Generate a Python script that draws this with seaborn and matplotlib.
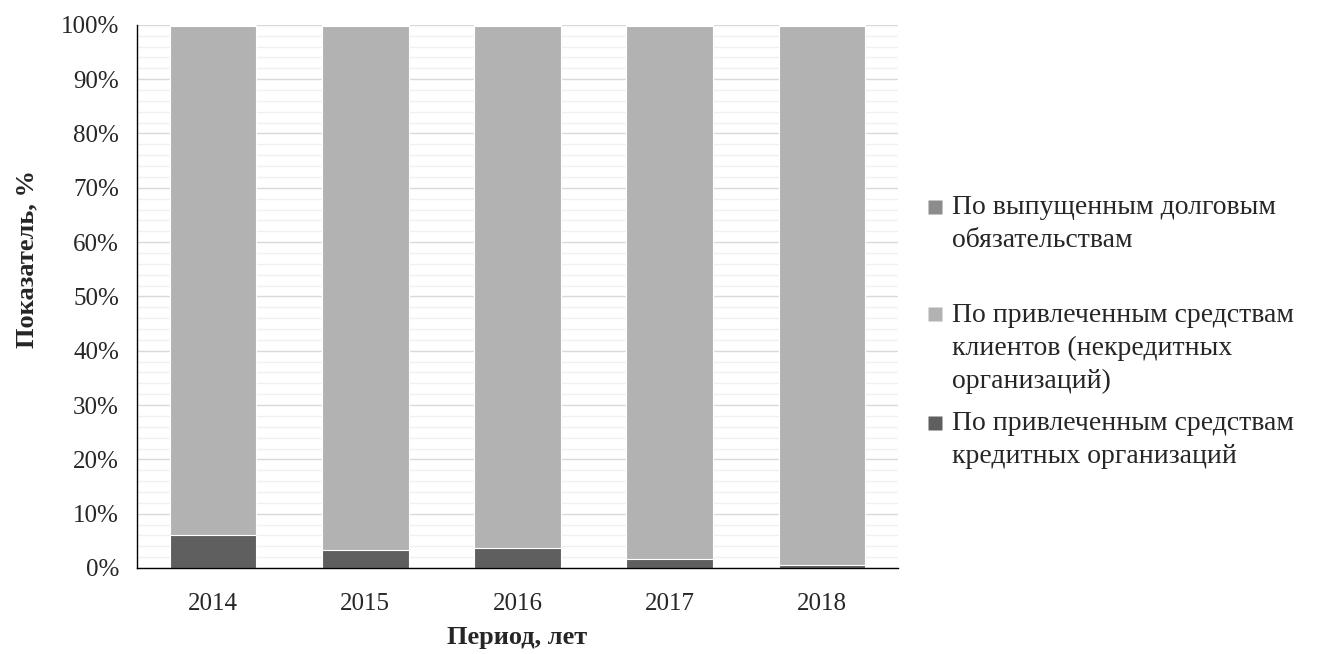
import pandas as pd
import seaborn as sns
import matplotlib.pyplot as plt
from matplotlib.lines import Line2D
from matplotlib.ticker import MultipleLocator, PercentFormatter

# --- Data (shares, %) ---
years = ["2014", "2015", "2016", "2017", "2018"]
credit_orgs = [6.0, 3.3, 3.7, 1.6, 0.5]      # По привлеченным средствам кредитных организаций
clients = [93.8, 96.5, 96.1, 98.2, 99.3]     # По привлеченным средствам клиентов
debt = [0.2, 0.2, 0.2, 0.2, 0.2]             # По выпущенным долговым обязательствам

labels = [
    "По выпущенным долговым\nобязательствам\n",
    "По привлеченным средствам\nклиентов (некредитных\nорганизаций)",
    "По привлеченным средствам\nкредитных организаций",
]
colors = ["#8c8c8c", "#b2b2b2", "#5f5f5f"]

df = pd.DataFrame({"year": years, "credit": credit_orgs, "clients": clients, "debt": debt})
df["lvl1"] = df["credit"]
df["lvl2"] = df["credit"] + df["clients"]
df["lvl3"] = df["lvl2"] + df["debt"]

sns.set_theme(style="white")
plt.rcParams["font.family"] = ["Liberation Serif", "DejaVu Serif"]

fig = plt.figure(figsize=(13.17, 6.54), dpi=100)
ax = fig.add_axes([0.104, 0.1315, 0.578, 0.8305])

# stacked bars: draw cumulative totals from the top layer down
for col, c in zip(["lvl3", "lvl2", "lvl1"], colors):
    sns.barplot(data=df, x="year", y=col, order=years, color=c, width=0.57,
                edgecolor="white", linewidth=0.8, saturation=1, ax=ax, zorder=2)

ax.set_xlim(-0.5, 4.5)
ax.set_ylim(0, 100)
ax.yaxis.set_major_locator(MultipleLocator(10))
ax.yaxis.set_minor_locator(MultipleLocator(2))
ax.yaxis.set_major_formatter(PercentFormatter(decimals=0))
ax.grid(axis="y", which="major", color="#d9d9d9", linewidth=1, zorder=0)
ax.grid(axis="y", which="minor", color="#f0f0f0", linewidth=1, zorder=0)
ax.set_axisbelow(True)

# category labels at centers, tick marks at boundaries
ax.set_xticks([i - 0.5 for i in range(len(years) + 1)])
ax.set_xticklabels([])
ax.set_xticks(range(len(years)), minor=True)
ax.set_xticklabels(years, minor=True)
ax.tick_params(axis="x", which="major", direction="inout", length=18, width=1, color="black")
ax.tick_params(axis="x", which="minor", length=0, labelsize=18, pad=18)
ax.tick_params(axis="y", which="major", direction="inout", length=14, width=1, color="black",
               labelsize=18, pad=6)
ax.tick_params(axis="y", which="minor", length=0)

for s in ["top", "right"]:
    ax.spines[s].set_visible(False)
for s in ["left", "bottom"]:
    ax.spines[s].set_color("black")
    ax.spines[s].set_linewidth(1)

ax.set_xlabel("Период, лет", fontsize=19, fontweight="bold", labelpad=8)
ax.set_ylabel("Показатель, %", fontsize=19, fontweight="bold")
ax.yaxis.set_label_coords(-0.129, 0.569)

handles = [Line2D([], [], marker="s", markersize=10, linestyle="none",
                  markerfacecolor=c, markeredgecolor="none") for c in colors]
leg = fig.legend(handles, labels, loc="upper left", bbox_to_anchor=(0.685, 0.740),
                 frameon=False, fontsize=20, handlelength=0.6, handleheight=1.2,
                 handletextpad=0.3, labelspacing=0.6)
for t in leg.get_texts():
    t.set_linespacing(1.42)
# align each marker with the first line of its label
for column in leg._legend_handle_box.get_children():
    for item in column.get_children():
        item.align = "top"

plt.savefig("out.png", dpi=100)
